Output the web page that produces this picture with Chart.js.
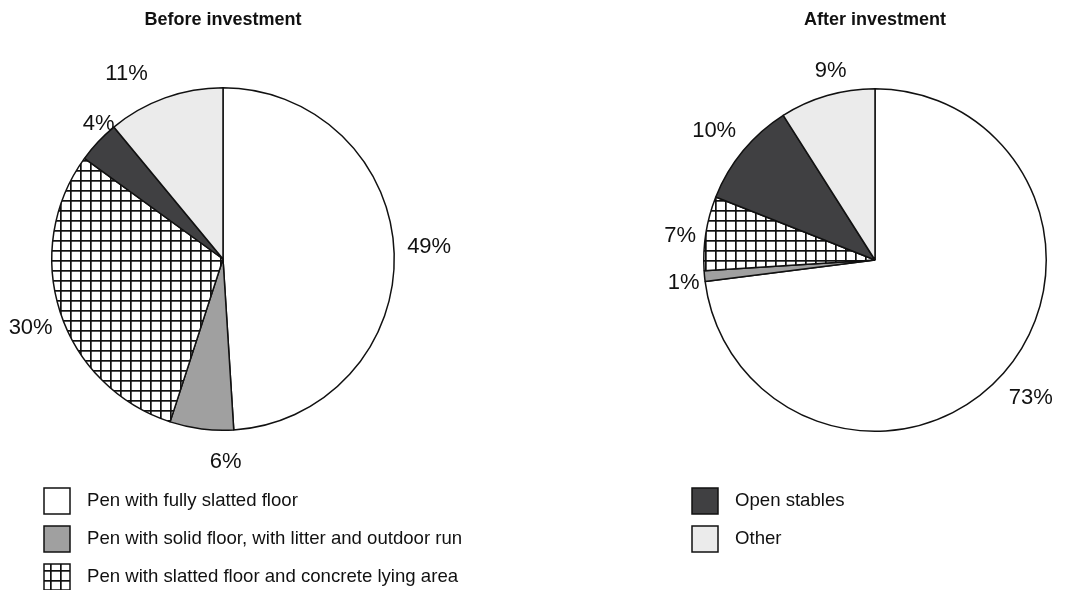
<!DOCTYPE html>
<html>
<head>
<meta charset="utf-8">
<script src="https://cdn.jsdelivr.net/npm/chart.js@4.4.1/dist/chart.umd.min.js"></script>
<style>
  body { margin: 0; background: #fff; }
  #wrap { position: relative; width: 1069px; height: 590px; overflow: hidden; }
  canvas { position: absolute; top: 0; }
</style>
</head>
<body>
<div id="wrap">
  <canvas id="before" width="535" height="590" style="left:0"></canvas>
  <canvas id="after" width="534" height="590" style="left:535px"></canvas>
</div>
<script>
const housingTypes = [
  'Pen with fully slatted floor',
  'Pen with solid floor, with litter and outdoor run',
  'Pen with slatted floor and concrete lying area',
  'Open stables',
  'Other'
];
const beforeShares = [49, 6, 30, 4, 11];
const afterShares = [73, 1, 7, 10, 9];
const chartTitles = ['Before investment', 'After investment'];

const FONT = '"Liberation Sans", Arial, Helvetica, sans-serif';

// grid hatch used for the slatted floor + concrete lying area slice
function gridPattern() {
  const c = document.createElement('canvas');
  c.width = 10; c.height = 10;
  const g = c.getContext('2d');
  g.fillStyle = '#fff';
  g.fillRect(0, 0, 10, 10);
  g.fillStyle = '#111';
  g.fillRect(0, 0, 1.7, 10);
  g.fillRect(0, 0, 10, 1.7);
  return g.createPattern(c, 'repeat');
}

const fills = ['#ffffff', '#a0a0a0', gridPattern(), '#404042', '#ebebeb'];

// percentage labels, title and legend rows drawn on the chart canvas
const pieDecor = {
  id: 'pieDecor',
  afterDatasetsDraw(chart, args, opts) {
    const ctx = chart.ctx;
    const arcs = chart.getDatasetMeta(0).data;
    const values = chart.data.datasets[0].data;
    const colors = chart.data.datasets[0].backgroundColor;
    ctx.save();
    ctx.fillStyle = '#111';
    ctx.textAlign = 'center';
    ctx.textBaseline = 'middle';
    ctx.font = '22px ' + FONT;
    arcs.forEach((arc, i) => {
      const p = arc.getProps(['startAngle', 'endAngle', 'outerRadius', 'x', 'y'], true);
      const mid = (p.startAngle + p.endAngle) / 2;
      const r = p.outerRadius + opts.labelGap;
      const [dx, dy] = opts.nudge[i];
      ctx.fillText(values[i] + '%', p.x + Math.cos(mid) * r + dx, p.y + Math.sin(mid) * r + dy);
    });

    ctx.font = 'bold 18px ' + FONT;
    ctx.fillText(opts.title, arcs[0].x, 20);

    ctx.textAlign = 'left';
    ctx.font = '18.6px ' + FONT;
    const box = 26;
    opts.legend.forEach((idx, row) => {
      const top = opts.legendY + row * 38;
      ctx.fillStyle = colors[idx];
      ctx.fillRect(opts.legendX, top, box, box);
      ctx.strokeStyle = '#111';
      ctx.lineWidth = 1.5;
      ctx.strokeRect(opts.legendX, top, box, box);
      ctx.fillStyle = '#111';
      ctx.fillText(chart.data.labels[idx], opts.legendX + 43, top + box / 2);
    });
    ctx.restore();
  }
};

function makePie(id, shares, title, padding, decor) {
  return new Chart(document.getElementById(id), {
    type: 'pie',
    data: {
      labels: housingTypes,
      datasets: [{
        data: shares,
        backgroundColor: fills,
        borderColor: '#111',
        borderWidth: 1.5
      }]
    },
    options: {
      responsive: false,
      animation: false,
      events: [],
      layout: { padding: padding },
      plugins: {
        legend: { display: false },
        tooltip: { enabled: false },
        pieDecor: Object.assign({ title: title, labelGap: 31 }, decor)
      }
    },
    plugins: [pieDecor]
  });
}

makePie('before', beforeShares, chartTitles[0],
  { left: 51, right: 140, top: 87, bottom: 159 },
  { nudge: [[4, -6], [28, 2], [0, 6], [23, 3], [-28, 5]], legend: [0, 1, 2], legendX: 44, legendY: 488 });

makePie('after', afterShares, chartTitles[1],
  { left: 168, right: 22, top: 88, bottom: 158 },
  { nudge: [[4, 4], [10, 4], [5, 8], [-5, 0], [12, 5]], legend: [3, 4], legendX: 157, legendY: 488 });
</script>
</body>
</html>
